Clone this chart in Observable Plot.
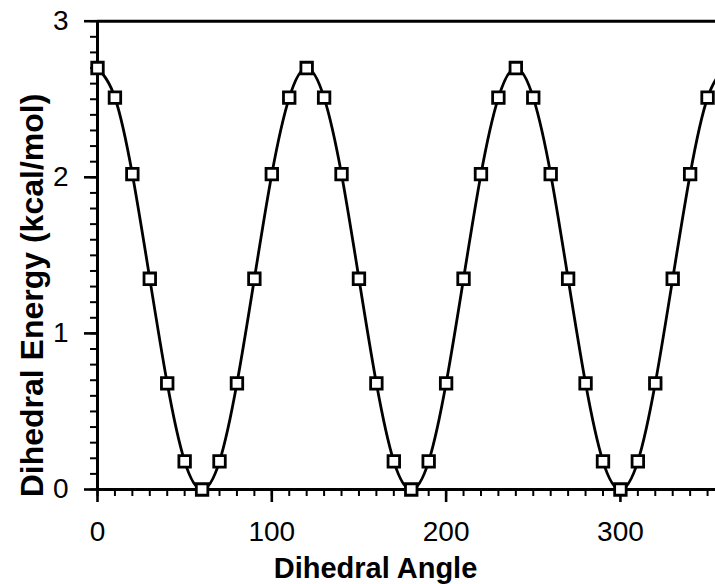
<!DOCTYPE html>
<html><head><meta charset="utf-8">
<script src="https://cdn.jsdelivr.net/npm/d3@7"></script>
<script src="https://cdn.jsdelivr.net/npm/@observablehq/plot@0.6"></script>
<style>
html,body{margin:0;padding:0;background:#fff;overflow:hidden;}
svg{overflow:hidden;}
</style></head><body><div id="chart"></div>
<script>
const angles = [0,10,20,30,40,50,60,70,80,90,100,110,120,130,140,150,160,170,180,190,200,210,220,230,240,250,260,270,280,290,300,310,320,330,340,350,360];
const energies = [2.70,2.51,2.02,1.35,0.68,0.18,0.00,0.18,0.68,1.35,2.02,2.51,2.70,2.51,2.02,1.35,0.68,0.18,0.00,0.18,0.68,1.35,2.02,2.51,2.70,2.51,2.02,1.35,0.68,0.18,0.00,0.18,0.68,1.35,2.02,2.51,2.70];
const xMajorTicks = [0,100,200,300];
const xMinorTicks = d3.range(0, 361, 10);
const yMajorTicks = [0,1,2,3];
const yMinorTicks = d3.range(0, 31, 1).map(d => d / 10);
const xTitle = "Dihedral Angle";
const yTitle = "Dihedral Energy (kcal/mol)";

const data = angles.map((a, i) => ({angle: a, energy: energies[i]}));
const font = "'Liberation Sans', Arial, Helvetica, sans-serif";

const chart = Plot.plot({
  width: 715, height: 584,
  marginLeft: 97, marginRight: 0, marginTop: 21, marginBottom: 95,
  style: {fontFamily: font, background: "white", overflow: "hidden", color: "black"},
  x: {domain: [0, 360], range: [97, 724.5]},
  y: {domain: [0, 3], range: [489, 20.7]},
  marks: [
    Plot.lineY(data, {x: "angle", y: "energy", curve: "natural", stroke: "black", strokeWidth: 2.8}),
    Plot.axisX({ticks: xMinorTicks, tickSize: 7, strokeWidth: 2, tickFormat: () => "", label: null}),
    Plot.axisX({ticks: xMajorTicks, tickSize: 13, strokeWidth: 2.6, tickPadding: 19, fontSize: 28, label: null, tickFormat: d => String(d)}),
    Plot.axisY({ticks: yMinorTicks, tickSize: 7, strokeWidth: 2, tickFormat: () => "", label: null}),
    Plot.axisY({ticks: yMajorTicks, tickSize: 13, strokeWidth: 2.6, tickPadding: 16, fontSize: 28, label: null, tickFormat: d => String(d)}),
    Plot.ruleY([0], {strokeWidth: 3}),
    Plot.ruleX([0], {strokeWidth: 3}),
    Plot.ruleY([3], {strokeWidth: 3}),
    Plot.dot(data, {x: "angle", y: "energy", symbol: "square", r: 6.5, stroke: "black", strokeWidth: 2.8, fill: "white"}),
    Plot.text([xTitle], {frameAnchor: "bottom", lineAnchor: "bottom", textAnchor: "middle", dy: 88, dx: -31, fontSize: 29, fontWeight: "bold"}),
    Plot.text([yTitle], {frameAnchor: "left", rotate: -90, lineAnchor: "bottom", textAnchor: "middle", dx: -55, dy: 40, fontSize: 32, fontWeight: "bold"})
  ]
});
document.getElementById("chart").appendChild(chart);
</script></body></html>
